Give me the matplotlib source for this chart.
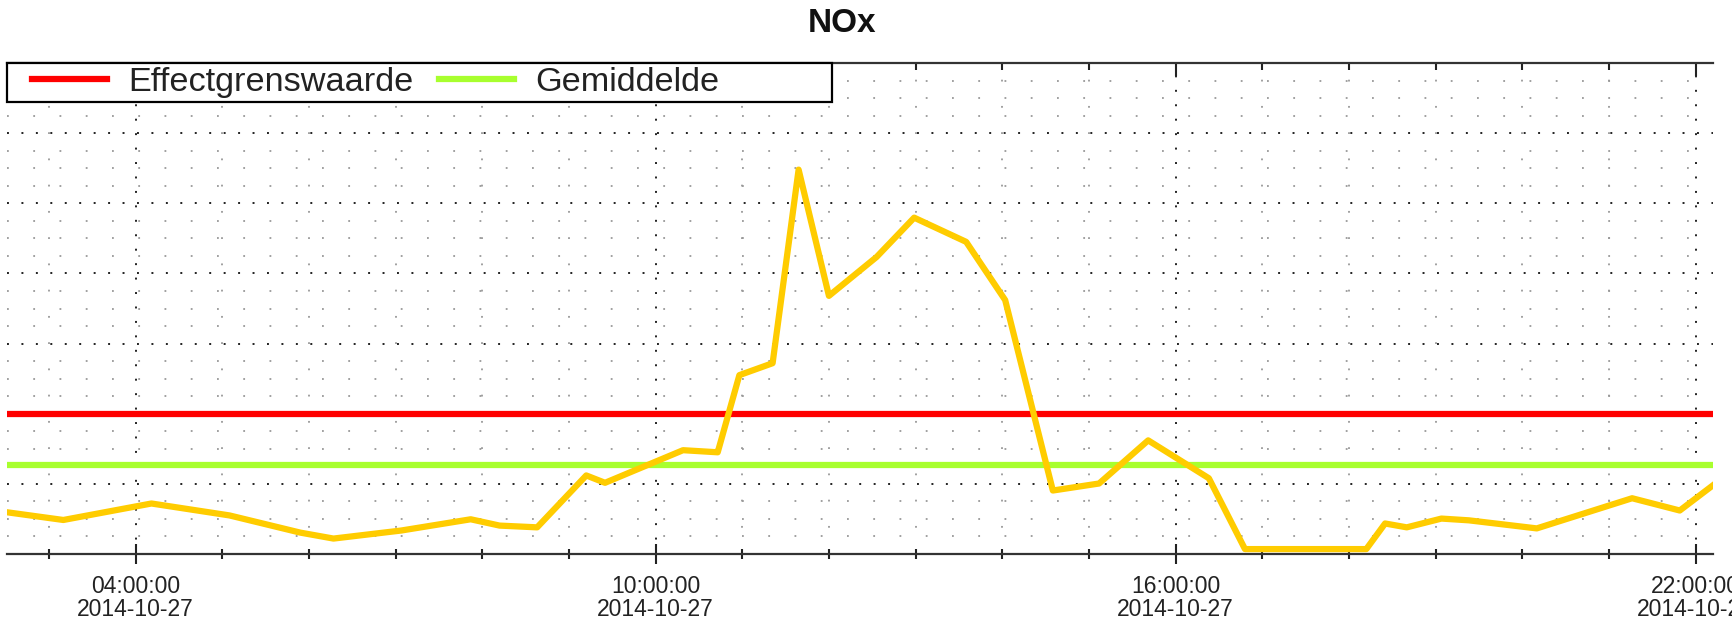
import numpy as np
import pandas as pd
import matplotlib
matplotlib.use('Agg')
import matplotlib.pyplot as plt
import matplotlib.dates as mdates
from matplotlib.ticker import MultipleLocator
from matplotlib.patches import Rectangle

plt.rcParams['font.family'] = ['Liberation Sans', 'DejaVu Sans']
plt.rcParams['lines.scale_dashes'] = False

day = '2014-10-27'
times = ['02:31', '03:10', '04:11', '05:05', '05:54', '06:17', '07:04', '07:52',
         '08:12', '08:38', '09:12', '09:25', '10:19', '10:43', '10:58', '11:21',
         '11:39', '12:00', '12:33', '12:59', '13:35', '14:02', '14:35', '15:07',
         '15:41', '16:23', '16:48', '18:12', '18:25', '18:40', '19:04', '19:23',
         '20:10', '21:16', '21:49', '22:12']
nox = [11.9, 9.7, 14.4, 11.0, 6.1, 4.4, 6.7, 9.9,
       8.1, 7.6, 22.4, 20.3, 29.6, 29.0, 51.0, 54.4,
       109.6, 73.6, 84.7, 95.9, 89.0, 72.4, 18.1, 20.1,
       32.4, 21.6, 1.4, 1.4, 8.7, 7.6, 10.1, 9.6,
       7.3, 15.9, 12.4, 19.6]
effectgrens = 40.0
gemiddelde = 25.3

t = pd.to_datetime([day + ' ' + s for s in times])

fig = plt.figure(figsize=(17.32, 6.23), dpi=100)
ax = fig.add_axes([7/1732, 1-554/623, 1706/1732, 491/623])

ax.plot(t, nox, color='#FFCC00', lw=4.5, solid_joinstyle='round', zorder=3)
ax.axhline(effectgrens, color='#FF0000', lw=4.5, label='Effectgrenswaarde', zorder=2)
ax.axhline(gemiddelde, color='#A8FF2E', lw=4.5, label='Gemiddelde', zorder=2)

ax.set_xlim(pd.Timestamp(day + ' 02:31'), pd.Timestamp(day + ' 22:12'))
ax.set_ylim(0, 140)

ax.xaxis.set_major_locator(mdates.HourLocator(byhour=[4, 10, 16, 22]))
ax.xaxis.set_minor_locator(mdates.HourLocator(interval=1))
ax.xaxis.set_major_formatter(mdates.DateFormatter('%H:%M:%S\n%Y-%m-%d'))
ax.yaxis.set_major_locator(MultipleLocator(20))
ax.yaxis.set_minor_locator(MultipleLocator(5))

ax.set_axisbelow(True)
ax.grid(which='major', color='#222222', lw=1.4, linestyle=(0, (1.4, 9.0)))
ax.grid(which='minor', color='#999999', lw=1.3, linestyle=(0, (1.3, 17.6)))

for s in ['left', 'right']:
    ax.spines[s].set_visible(False)
for s in ['top', 'bottom']:
    ax.spines[s].set_color('#333333')
    ax.spines[s].set_linewidth(1.6)

ax.tick_params(axis='y', which='both', left=False, labelleft=False)
ax.tick_params(axis='x', which='major', direction='inout', length=14, width=1.5,
               color='#222222', labelsize=16.5, labelcolor='#222222', pad=8)
ax.tick_params(axis='x', which='minor', direction='inout', length=6.5, width=1.5,
               color='#222222')
for lbl in ax.get_xticklabels():
    lbl.set_linespacing(1.0)

top = ax.secondary_xaxis('top')
top.xaxis.set_major_locator(mdates.HourLocator(byhour=[4, 10, 16, 22]))
top.xaxis.set_minor_locator(mdates.HourLocator(interval=1))
top.tick_params(which='major', direction='in', length=9.5, width=1.5, color='#222222',
                labeltop=False)
top.tick_params(which='minor', direction='in', length=5, width=1.5, color='#222222')
top.spines['top'].set_visible(False)

# legend box
ax.add_patch(Rectangle((0, 1 - 39/491), 825/1706, 39/491, transform=ax.transAxes,
                       facecolor='white', edgecolor='black', lw=1.6, zorder=5,
                       clip_on=False))
leg = ax.legend(loc='center left', bbox_to_anchor=(25/1706, (554-82)/491), ncol=2,
                frameon=False, fontsize=24.7, borderpad=0, handlelength=2.2,
                handletextpad=0.62, columnspacing=0.72, borderaxespad=0)
leg.set_zorder(6)
for txt in leg.get_texts():
    txt.set_color('#222222')

fig.text(842.5/1732, 1-23/623, 'NOx', ha='center', va='center', fontsize=24,
         fontweight='bold', color='#111111')

fig.savefig('out.png', dpi=100)
